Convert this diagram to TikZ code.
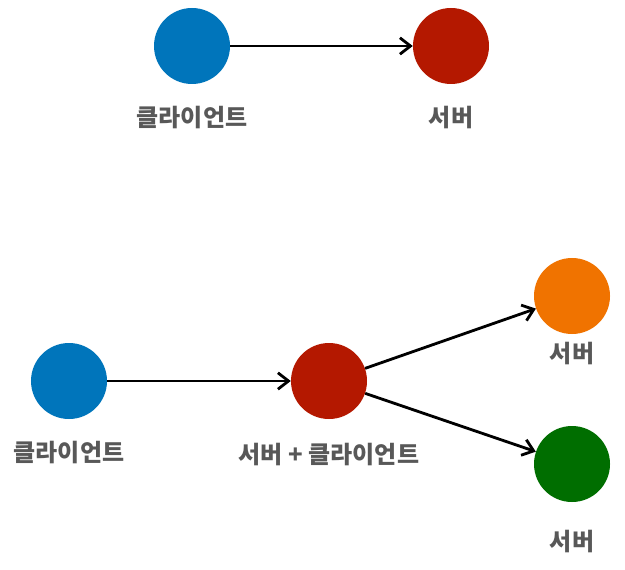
\documentclass[tikz,border=0pt]{standalone}
\usepackage{fontspec}
\newfontfamily\krfont{Noto Sans CJK KR}
\usepackage{tikz}
\usetikzlibrary{arrows.meta,positioning}
\usepackage{xcolor}
\definecolor{cliblue}{RGB}{0,117,187}
\definecolor{srvred}{RGB}{180,24,0}
\definecolor{srvorange}{RGB}{240,115,0}
\definecolor{srvgreen}{RGB}{0,110,0}
\definecolor{lblgray}{RGB}{88,88,88}

\begin{document}
\begin{tikzpicture}[x=0.03cm,y=-0.03cm,
    dot/.style={circle,minimum size=2.28cm,inner sep=0pt},
    lbl/.style={font=\krfont\bfseries\fontsize{20.5}{24}\selectfont,text=lblgray},
    conn/.style={-{Straight Barb[length=9pt,width=14pt]},line width=2.4pt}]
  \useasboundingbox (0,0) rectangle (625,570);
  % top: client -> server
  \node[dot,fill=cliblue] (cli) at (192,46) {};
  \node[dot,fill=srvred] (srv) at (451,46) {};
  \node[lbl] (cliL) at (192,118) {클라이언트};
  \node[lbl] (srvL) at (451,118) {서버};
  \draw[conn] (cli) -- (srv);
  % bottom: client -> server+client -> two servers
  \node[dot,fill=cliblue] (cliB) at (69,381) {};
  \node[dot,fill=srvred] (mid) at (329,381) {};
  \node[dot,fill=srvorange] (srvA) at (572,296) {};
  \node[dot,fill=srvgreen] (srvB) at (572,464) {};
  \node[lbl] (cliBL) at (69,453) {클라이언트};
  \node[lbl] (midL) at (329,455) {서버 + 클라이언트};
  \node[lbl] (srvAL) at (572,354) {서버};
  \node[lbl] (srvBL) at (572,542) {서버};
  \draw[conn] (cliB) -- (mid);
  \draw[conn] (mid) -- (srvA);
  \draw[conn] (mid) -- (srvB);
\end{tikzpicture}
\end{document}
